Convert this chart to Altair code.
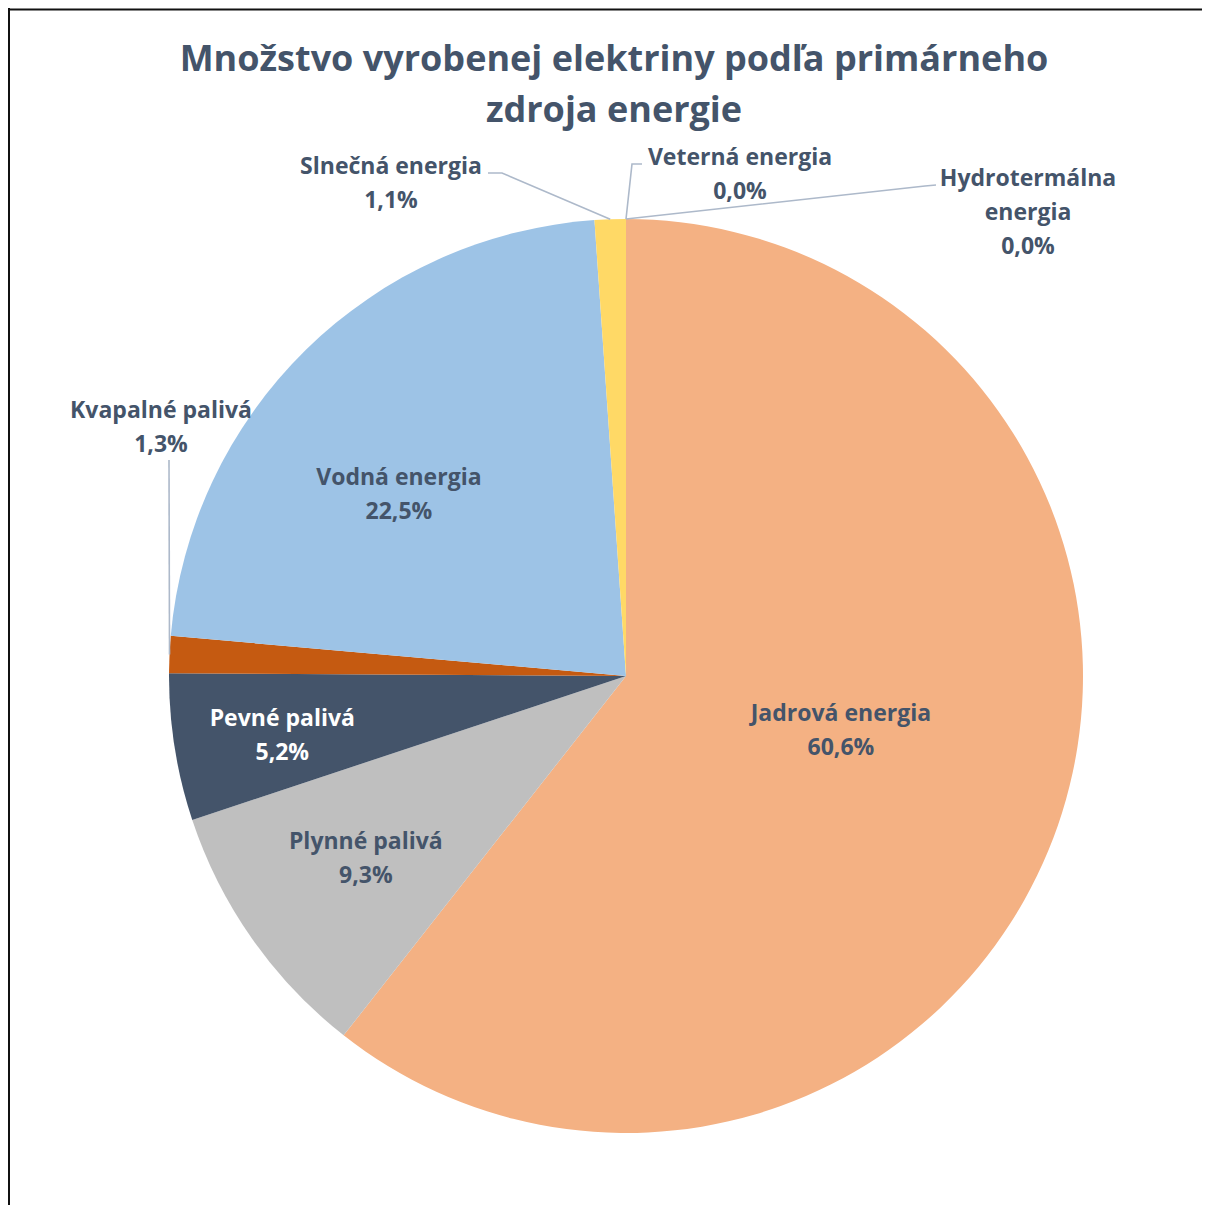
import math
import altair as alt
import pandas as pd

# ---- data ----
categories = ["Jadrová energia", "Plynné palivá", "Pevné palivá", "Kvapalné palivá",
              "Vodná energia", "Slnečná energia", "Veterná energia", "Hydrotermálna energia"]
shares = [60.6, 9.3, 5.2, 1.3, 22.5, 1.1, 0.0, 0.0]
colors = ["#F4B183", "#BFBFBF", "#44546A", "#C55A11", "#9DC3E6", "#FFD966", "#A5A5A5", "#5B9BD5"]
label_names = ["Jadrová energia", "Plynné palivá", "Pevné palivá", "Kvapalné palivá",
               "Vodná energia", "Slnečná energia", "Veterná energia", "Hydrotermálna\nenergia"]
title_lines = ["Množstvo vyrobenej elektriny podľa primárneho", "zdroja energie"]

# ---- layout ----
W, H = 1194, 1197
CX, CY, R = 618, 668, 457
FONT = "Open Sans"
TEXT_COLOR = "#44546A"
LEADER_COLOR = "#ADB9CA"
LABEL_SIZE = 23
LINE_H = 34

total = sum(shares)
mids = []
cum = 0.0
for s in shares:
    mids.append((cum + s / 2) / total * 2 * math.pi)
    cum += s


def polar(a, r):
    return CX + r * math.sin(a), CY - r * math.cos(a)


def pct(v):
    return f"{v:.1f}".replace(".", ",") + "%"


df = pd.DataFrame({"category": categories, "share": shares, "idx": list(range(len(categories)))})

pie = alt.Chart(df).mark_arc(outerRadius=R).encode(
    theta=alt.Theta("share:Q", stack=True),
    order=alt.Order("idx:Q"),
    color=alt.Color("category:N", scale=alt.Scale(domain=categories, range=colors), legend=None),
    x=alt.value(CX),
    y=alt.value(CY),
)

# label placement: inside labels along the slice mid-angle (radius + small nudge),
# outside labels at a block centre (layout only)
inside_place = {0: (220, 7, -17), 1: (318, 0, 0), 2: (348, 0, 6), 4: (290, -24, 26)}
outside_pos = {3: (153, 420), 5: (383, 176), 6: (732, 167), 7: (1020, 205)}

rows = []
for i, cat in enumerate(categories):
    if i in inside_place:
        r, ddx, ddy = inside_place[i]
        x, y = polar(mids[i], r)
        x += ddx
        y += ddy
    else:
        x, y = outside_pos[i]
    text = label_names[i] + "\n" + pct(shares[i])
    n_lines = text.count("\n") + 1
    rows.append({
        "x": x, "y": y - (n_lines - 1) * LINE_H / 2,
        "text": text,
        "col": "#FFFFFF" if i == 2 else TEXT_COLOR,
    })
lab_df = pd.DataFrame(rows)

labels = alt.Chart(lab_df).mark_text(
    font=FONT, fontSize=LABEL_SIZE, fontWeight="bold", align="center", baseline="middle",
    lineBreak="\n", lineHeight=LINE_H,
).encode(
    x=alt.X("x:Q", scale=None),
    y=alt.Y("y:Q", scale=None),
    text="text:N",
    color=alt.Color("col:N", scale=None),
)

# leader lines: start at slice edge (from data), then elbow to label
leader_rows = []
elbows = {
    5: [(494, 165), (480, 165)],
    6: [(624, 156), (634, 156)],
    7: [(917, 178), (928, 177)],
    3: [(161, 452)],
}
for i, pts in elbows.items():
    sx, sy = polar(mids[i], R)
    seq = [(sx, sy)] + pts
    for k, (px, py) in enumerate(seq):
        leader_rows.append({"seg": i, "o": k, "x": px, "y": py})
lead_df = pd.DataFrame(leader_rows)

leaders = alt.Chart(lead_df).mark_line(color=LEADER_COLOR, strokeWidth=1.6).encode(
    x=alt.X("x:Q", scale=None),
    y=alt.Y("y:Q", scale=None),
    detail="seg:N",
    order="o:Q",
)

title_df = pd.DataFrame({"t": ["\n".join(title_lines)]})
title = alt.Chart(title_df).mark_text(
    font=FONT, fontSize=36, fontWeight="bold", color=TEXT_COLOR, align="center",
    baseline="middle", lineBreak="\n", lineHeight=51,
).encode(text="t:N", x=alt.value(606), y=alt.value(52))

border_df = pd.DataFrame({"a": [0]})
left_border = alt.Chart(border_df).mark_rule(color="#111111", strokeWidth=2).encode(
    x=alt.value(1), y=alt.value(0), y2=alt.value(H))
top_border = alt.Chart(border_df).mark_rule(color="#111111", strokeWidth=2).encode(
    y=alt.value(1.5), x=alt.value(0), x2=alt.value(W))

chart = alt.layer(pie, leaders, labels, title, left_border, top_border).properties(
    width=W, height=H, autosize=alt.AutoSizeParams(type="none"), padding=0,
).configure_view(stroke=None)

chart.save("out.html", embed_options={"renderer": "svg", "actions": False})
